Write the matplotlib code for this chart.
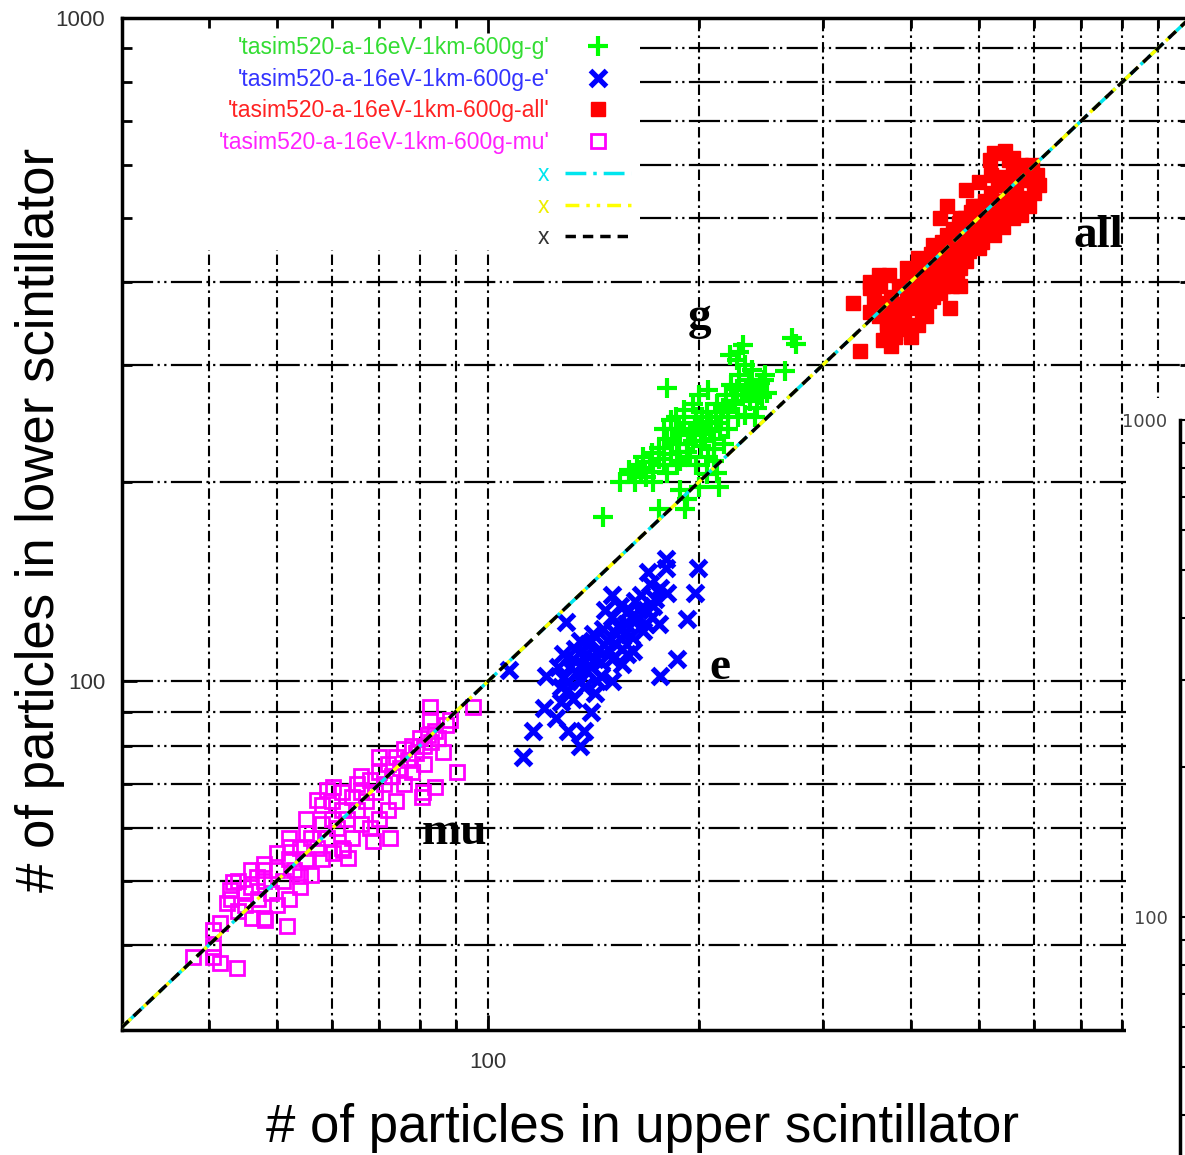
import matplotlib.pyplot as plt
from matplotlib.patches import Rectangle

# gamma component
g_x = [160, 163, 165, 166, 168, 170, 171, 172, 162, 175,
       178, 180, 182, 185, 186, 188, 190, 192, 194, 196, 198, 200, 201, 203, 205, 206, 208, 210,
       212, 214, 215, 217, 218, 185, 190, 178, 182, 196, 200, 206, 188, 198, 210,
       220, 222, 225, 228, 230, 232, 235, 236, 238, 240, 242, 244, 246, 248, 232, 226, 240, 250,
       205, 210, 220,
       271, 275, 231, 228, 221, 265, 180, 226, 146, 154, 175, 191, 192, 213, 212, 200, 188, 180, 166, 159,
       175, 183, 187, 193, 197, 202, 207, 211, 216, 223, 227, 233, 237, 243, 247, 204, 194, 186, 178, 172]
g_y = [205, 212, 208, 218, 203, 214, 221, 207, 200, 216,
       225, 232, 220, 240, 228, 235, 245, 222, 238, 230, 250, 242, 226, 236, 255, 218, 246, 232,
       262, 240, 250, 228, 270, 250, 256, 240, 248, 262, 270, 275, 215, 212, 224,
       255, 280, 262, 290, 270, 252, 285, 265, 295, 275, 258, 282, 268, 290, 300, 276, 250, 272,
       205, 215, 240,
       329, 323, 321, 314, 310, 294, 277, 305, 177, 200, 182, 182, 188, 196, 206, 196, 194, 206, 210, 208,
       225, 230, 222, 228, 240, 250, 238, 245, 258, 265, 250, 275, 280, 270, 285, 230, 218, 212, 212, 200]

# electron component
e_x = [126, 128, 130, 132, 134, 135, 137, 138, 140, 141, 143, 144, 145, 146, 130, 133, 139, 142, 136, 128,
       148, 150, 152, 154, 155, 157, 159, 160, 162, 163, 165, 166, 168, 170, 171, 173, 175, 176, 158, 150, 147, 153, 161,
       179, 179, 169, 199, 197, 180, 150, 192, 129, 186, 176, 107, 120, 116, 112, 137, 135, 130, 121, 132, 127, 140, 125,
       138, 142, 148, 152, 156, 160, 164, 168, 172, 145, 135, 131, 127, 150, 155]
e_y = [105, 110, 100, 108, 103, 115, 98, 110, 105, 118, 100, 112, 107, 120, 97, 112, 114, 96, 106, 101,
       115, 125, 118, 130, 112, 122, 128, 117, 132, 124, 135, 119, 128, 140, 125, 133, 122, 138, 110, 108, 128, 121, 111,
       153, 148, 146, 148, 136, 136, 135, 124, 123, 108, 102, 104, 91, 84, 77, 84, 80, 84, 102, 94, 93, 90, 88,
       104, 108, 112, 114, 118, 125, 128, 122, 130, 102, 100, 105, 98, 100, 106]

# all particles
all_x = [360, 365, 370, 375, 378, 382, 385, 388, 392, 395, 398, 400, 403, 406, 410, 412, 415, 418, 420, 423,
         426, 428, 430, 433, 436, 438, 440, 443, 445, 448, 450, 453, 456, 460, 462, 465, 468, 470, 474, 478,
         480, 484, 488, 490, 494, 498, 500, 505, 510, 512, 516, 520, 524, 528, 532, 536, 540, 545, 550, 555,
         560, 565, 570, 575, 580, 588, 595, 605, 610, 400, 410, 420, 380, 395, 390, 430, 440, 470, 458, 480,
         500, 525, 350, 355, 362, 372, 350, 360, 455, 470, 440, 450, 560, 575, 480, 500, 520, 590, 600, 460,
         475, 525, 545, 560, 375, 380,
         415, 425, 445, 465, 485, 505, 515, 535, 555, 570, 540, 520, 490, 470, 430, 410, 395, 385,
         339, 331, 350, 455, 365, 370, 542, 597, 519, 553]
all_y = [355, 372, 340, 380, 360, 345, 395, 370, 355, 400, 380, 365, 410, 390, 372, 420, 400, 385, 430, 405,
         392, 440, 418, 400, 450, 425, 410, 460, 435, 418, 470, 445, 428, 480, 455, 438, 490, 465, 448, 500,
         475, 458, 510, 485, 470, 520, 495, 480, 530, 505, 490, 545, 515, 500, 560, 530, 510, 575, 545, 520,
         590, 560, 535, 600, 570, 585, 600, 580, 560, 330, 345, 355, 330, 420, 340, 380, 385, 420, 395, 430,
         450, 470, 360, 375, 395, 410, 400, 410, 400, 395, 500, 520, 500, 505, 550, 565, 580, 520, 545, 430,
         455, 625, 630, 615, 320, 335,
         360, 375, 395, 410, 445, 460, 475, 495, 505, 520, 560, 520, 520, 500, 455, 435, 385, 355,
         315, 372, 392, 366, 327, 347, 484, 570, 611, 611]

# muon component
mu_x = [43, 44, 45, 45, 46, 47, 48, 49, 50, 51, 52, 50, 53, 54, 55, 56, 57, 55, 58, 59, 60, 61, 62, 60, 63,
        64, 65, 66, 67, 65, 68, 69, 70, 71, 72, 70, 73, 74, 75, 76, 77, 78, 79, 80, 81, 82, 83, 84,
        76, 74, 72, 70, 68, 66, 64, 62, 58, 56, 54, 52, 50, 48, 66, 62, 58, 55, 52, 48, 46, 44, 78, 81, 85, 87,
        38, 40.6, 41.5, 43.9, 40.6, 40.6, 41.5, 46.1, 48.1, 51.7, 42.5, 42.9, 43.3, 46.9, 47.8, 54.0, 52.3,
        57.1, 59.0, 60.1, 60.1, 82.6, 95.2, 82.6, 88.3, 86.3, 90.3, 84.0, 80.8, 80.6, 68.6, 72.5, 63.2, 62.2]
mu_y = [47, 45, 48, 46, 49, 47, 50, 48, 52, 50, 54, 55, 52, 56, 54, 58, 56, 59, 61, 58, 62, 60, 64, 66, 62,
        67, 64, 68, 66, 70, 71, 68, 73, 70, 75, 77, 72, 77, 74, 79, 76, 80, 78, 82, 80, 83, 81, 84,
        70, 66, 64, 62, 60, 61, 58, 56, 54, 51, 49, 47, 46, 44, 72, 68, 65, 62, 58, 53, 52, 50, 73, 75, 82, 86,
        38.4, 38.4, 37.6, 36.9, 39.7, 42.1, 43.2, 44.0, 43.6, 42.8, 46.3, 48.4, 49.8, 50.6, 51.9, 50.9, 56.2,
        66.2, 68.5, 69.2, 55.0, 91.3, 91.3, 87.3, 87.3, 78.2, 72.9, 69.2, 68.0, 66.8, 57.5, 58.1, 54.1, 55.6]

diag = [30, 1000]

legend_labels = ["'tasim520-a-16eV-1km-600g-g'", "'tasim520-a-16eV-1km-600g-e'",
                 "'tasim520-a-16eV-1km-600g-all'", "'tasim520-a-16eV-1km-600g-mu'", "x", "x", "x"]
legend_colors = ['#33dd33', '#3333ff', '#ff2222', '#ff22ff', '#00e5ee', '#eeee00', '#333333']

y_grid = [40, 50, 60, 70, 80, 90, 100, 200, 300, 400, 500, 600, 700, 800, 900]
x_grid = [40, 50, 60, 70, 80, 90, 100, 200, 300, 400, 500, 600, 700, 800, 900]

fig = plt.figure(figsize=(11.85, 11.55), dpi=100)
ax = fig.add_axes([122 / 1185, 1 - 1030 / 1155, 1068 / 1185, 1012 / 1155])
ax.set_xscale('log')
ax.set_yscale('log')
ax.set_xlim(30.1, 1000)
ax.set_ylim(29.8, 1000)

# grid, kept out of the key area in the top left corner
for v in y_grid:
    xmin = 0.485 if v >= 500 else 0
    ax.axhline(v, xmin=xmin, color='black', lw=1.6, ls=(0, (14, 2, 1, 2, 1, 2)), zorder=1)
for v in x_grid:
    ymax = 0.771 if v <= 100 else 1
    ax.axvline(v, ymax=ymax, color='black', lw=1.5, ls=(0, (5, 2, 1.2, 2)), zorder=1)

h_g, = ax.plot(g_x, g_y, ls='none', marker='+', ms=15, mew=3, color='#00ff00', zorder=3)
h_e, = ax.plot(e_x, e_y, ls='none', marker='x', ms=11, mew=3.8, color='#0000ff', zorder=3)
h_all, = ax.plot(all_x, all_y, ls='none', marker='s', ms=10, color='#ff0000', zorder=3)
h_mu, = ax.plot(mu_x, mu_y, ls='none', marker='s', ms=10, mew=2, mfc='none', color='#ff00ff', zorder=3)

h_c, = ax.plot(diag, diag, color='#00e5ee', lw=2.5, ls=(0, (6, 2, 1, 2)), zorder=4)
h_y, = ax.plot(diag, diag, color='#ffff00', lw=2.5, ls=(0, (4, 2, 1, 2, 1, 2)), zorder=4)
h_k, = ax.plot(diag, diag, color='black', lw=2.5, ls=(0, (3, 2)), zorder=4)

leg = ax.legend([h_g, h_e, h_all, h_mu, h_c, h_y, h_k], legend_labels, loc='upper right',
                bbox_to_anchor=(631 / 1185, 1 - 36 / 1155),
                bbox_transform=fig.transFigure, frameon=False, markerfirst=False, numpoints=1,
                handlelength=2.9, handletextpad=0.65, labelspacing=0.38,
                borderpad=0, borderaxespad=0, labelcolor=legend_colors,
                prop={'family': 'Liberation Sans', 'size': 16.5})

ax.text(200, 353, 'g', fontsize=34, fontweight='bold', family='Liberation Serif', ha='center', va='center')
ax.text(214, 104.6, 'e', fontsize=34, fontweight='bold', family='Liberation Serif', ha='center', va='center')
ax.text(740, 469, 'all', fontsize=34, fontweight='bold', family='Liberation Serif', ha='center', va='center')
ax.text(89.7, 59, 'mu', fontsize=34, fontweight='bold', family='Liberation Serif', ha='center', va='center')

ax.set_xticks([100])
ax.set_xticklabels(['100'])
ax.set_yticks([100, 1000])
ax.set_yticklabels(['100', '1000'])
ax.set_xticks(x_grid, minor=True)
ax.set_yticks(y_grid, minor=True)
ax.set_xticklabels([], minor=True)
ax.set_yticklabels([], minor=True)
ax.tick_params(which='both', direction='in', top=True, right=True, width=2, labelsize=16,
               labelcolor='#333333', labelfontfamily='Liberation Sans')
ax.tick_params(which='major', length=11)
ax.tick_params(which='minor', length=7)
ax.tick_params(axis='x', pad=16)
ax.tick_params(axis='y', pad=12)
for s in ax.spines.values():
    s.set_linewidth(2.5)

fig.text(642 / 1185, 1 - 1128 / 1155, '# of particles in upper scintillator', fontsize=38,
         family='Liberation Sans', ha='center', va='center')
fig.text(40 / 1185, 1 - 520 / 1155, '# of particles in lower scintillator', fontsize=38,
         family='Liberation Sans', ha='center', va='center', rotation=90)

# second pasted chart overlapping the right edge
fig.patches.append(Rectangle((1126 / 1185, 0), 1, 1 - 398 / 1155, transform=fig.transFigure,
                             facecolor='white', edgecolor='none', zorder=1))
ax2 = fig.add_axes([1180 / 1185, 0, 0.2, 1 - 420 / 1155], facecolor='none')
ax2.set_zorder(2)
ax2.set_yscale('log')
ax2.set_ylim(33.2, 1000)
ax2.set_xticks([])
for k in ['top', 'right', 'bottom']:
    ax2.spines[k].set_visible(False)
ax2.spines['left'].set_linewidth(2.5)
ax2.set_yticks([100, 1000])
ax2.set_yticklabels(['100', '1000'])
ax2.set_yticks([40, 50, 60, 70, 80, 90, 200, 300, 400, 500, 600, 700, 800, 900], minor=True)
ax2.set_yticklabels([], minor=True)
ax2.tick_params(which='both', direction='in', width=1.5, labelsize=13, labelcolor='#444444', pad=9)
ax2.tick_params(which='major', length=8)
ax2.tick_params(which='minor', length=4)

fig.savefig('out.png', dpi=100)
